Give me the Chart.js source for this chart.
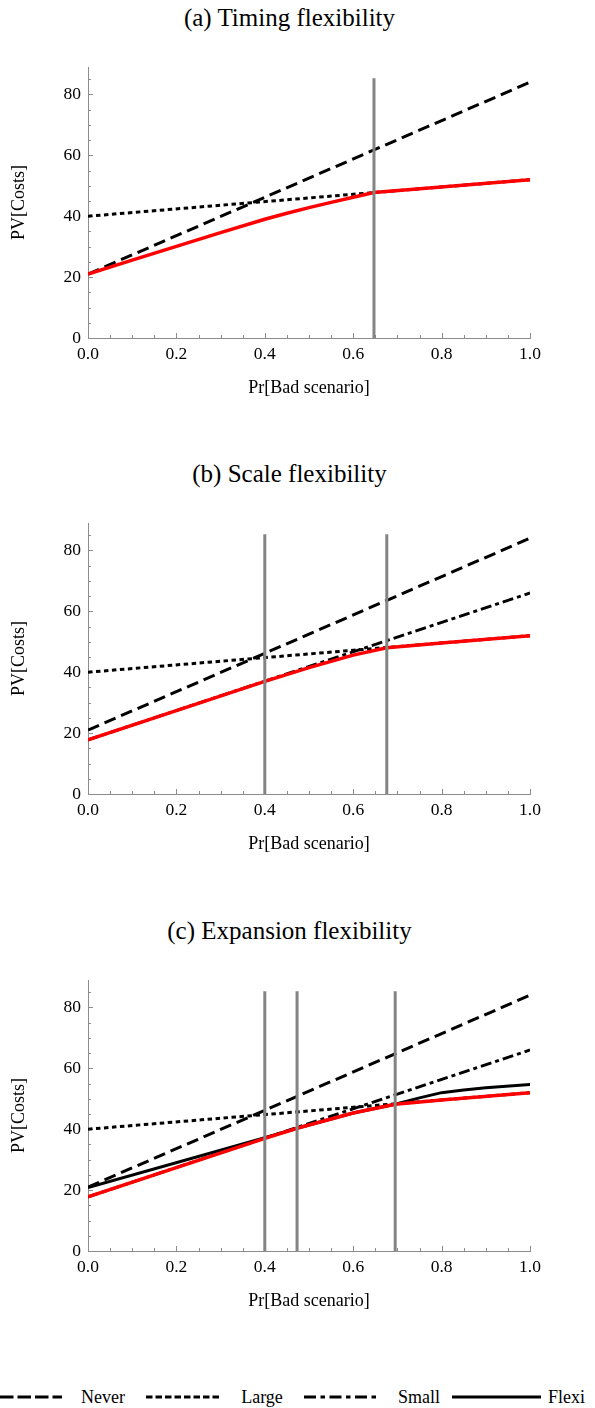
<!DOCTYPE html>
<html>
<head>
<meta charset="utf-8">
<script src="https://cdn.jsdelivr.net/npm/chart.js@4.4.1/dist/chart.umd.min.js"></script>
<style>
  html, body { margin: 0; padding: 0; background: #fff; }
  #page { position: relative; width: 595px; height: 1408px; overflow: hidden; background: #fff; }
  .ttl { position: absolute; left: 0; width: 579px; text-align: center; font: 25px 'Liberation Serif', serif; line-height: 30px; color: #000; }
  canvas { position: absolute; left: 0; }
  #legend { position: absolute; left: 0; top: 1382px; }
</style>
</head>
<body>
<div id="page">
  <div class="ttl" style="top:3px">(a) Timing flexibility</div>
  <canvas id="cA" width="595" height="456" style="top:0px"></canvas>
  <div class="ttl" style="top:459px">(b) Scale flexibility</div>
  <canvas id="cB" width="595" height="456" style="top:456px"></canvas>
  <div class="ttl" style="top:916px">(c) Expansion flexibility</div>
  <canvas id="cC" width="595" height="456" style="top:913px"></canvas>
  <svg id="legend" width="595" height="30">
    <g stroke="#000" stroke-width="3" fill="none">
      <line x1="0" y1="15" x2="62" y2="15" stroke-dasharray="13.5 4"/>
      <line x1="146" y1="15" x2="222" y2="15" stroke-dasharray="6.5 3"/>
      <line x1="304" y1="15" x2="378" y2="15" stroke-dasharray="12 4.5 4.5 4.5"/>
      <line x1="452" y1="15" x2="541" y2="15"/>
    </g>
    <g font-family="Liberation Serif, serif" font-size="18" fill="#000">
      <text x="103" y="21" text-anchor="middle">Never</text>
      <text x="262" y="21" text-anchor="middle">Large</text>
      <text x="419" y="21" text-anchor="middle">Small</text>
      <text x="548" y="21">Flexi</text>
    </g>
  </svg>
</div>
<script>
// axis ticks
const xTicks = [0, 0.2, 0.4, 0.6, 0.8, 1.0];
const yTicks = [0, 20, 40, 60, 80];

// straight strategies (same in every panel)
const lineX = [0, 1];
const neverY = [21, 84];
const largeY = [40, 52];
const smallY = [17.8, 66];

// optimal (red) curves
const timingX = [0, 0.1, 0.2, 0.3, 0.4, 0.45, 0.5, 0.55, 0.6, 0.647, 1];
const timingY = [21, 25.6, 30.1, 34.6, 39.0, 40.95, 42.8, 44.55, 46.2, 47.8, 52];
const scaleX = [0, 0.4, 0.5, 0.6, 0.676, 0.8, 1];
const scaleY = [17.8, 37, 41.5, 45.6, 48, 49.6, 52];
const expX = [0, 0.4, 0.475, 0.6, 0.695, 0.8, 1];
const expY = [17.8, 37, 40.4, 45.3, 48.2, 49.6, 52];

// flexible plant, panel (c)
const flexiX = [0, 0.4, 0.475, 0.6, 0.695, 0.75, 0.8, 0.85, 0.9, 1];
const flexiY = [20.8, 37.2, 40.4, 45.3, 48.2, 50.3, 52, 52.9, 53.6, 54.7];

// switching thresholds (grey verticals)
const cutsA = [0.647];
const cutsB = [0.4, 0.676];
const cutsC = [0.4, 0.473, 0.695];
const cutTop = 85.3;

const axisGray = '#8c8c8c';
const serif = "'Liberation Serif', 'Times New Roman', serif";
Chart.defaults.font.family = serif;
Chart.defaults.color = '#000';

const pts = (xs, ys) => xs.map((x, i) => ({ x: x, y: ys[i] }));

function series(xs, ys, color, dash, width) {
    return { data: pts(xs, ys), borderColor: color, borderWidth: width || 3, borderDash: dash || [],
             pointRadius: 0, fill: false, tension: 0 };
}

function cutSets(cuts) {
    return cuts.map(c => ({ data: [{ x: c, y: 0 }, { x: c, y: cutTop }], borderColor: '#848484',
                            borderWidth: 3, pointRadius: 0, fill: false }));
}

// Mathematica style ticks pointing into the plot
const inwardTicks = {
    id: 'inwardTicks',
    beforeDatasetsDraw(chart) {
        const { ctx, scales: { x, y } } = chart;
        ctx.save();
        ctx.strokeStyle = axisGray;
        ctx.lineWidth = 1;
        ctx.beginPath();
        for (let i = 0; i <= 20; i++) {
            const px = Math.round(x.getPixelForValue(i * 0.05)) + 0.5;
            const len = i % 4 === 0 ? 5 : 3;
            ctx.moveTo(px, y.bottom);
            ctx.lineTo(px, y.bottom - len);
        }
        for (let i = 0; i <= 17; i++) {
            const py = Math.round(y.getPixelForValue(i * 5)) + 0.5;
            const len = i % 4 === 0 ? 5 : 3;
            ctx.moveTo(x.left, py);
            ctx.lineTo(x.left + len, py);
        }
        ctx.stroke();
        ctx.restore();
    }
};

function makePanel(id, sets) {
    return new Chart(document.getElementById(id), {
        type: 'line',
        data: { datasets: sets },
        options: {
            responsive: false,
            animation: false,
            devicePixelRatio: 1,
            layout: { padding: { left: 0, right: 65, top: 67, bottom: 57 } },
            plugins: { legend: { display: false }, tooltip: { enabled: false }, title: { display: false } },
            scales: {
                x: {
                    type: 'linear', min: 0, max: 1,
                    grid: { display: false, drawTicks: false },
                    border: { display: true, color: axisGray, width: 1 },
                    ticks: { font: { size: 17.5 }, padding: 6, maxRotation: 0, callback: v => v.toFixed(1) },
                    afterBuildTicks: s => { s.ticks = xTicks.map(v => ({ value: v })); },
                    afterFit: s => { s.height = 61; },
                    title: { display: true, text: 'Pr[Bad scenario]', font: { size: 18 }, padding: 0 }
                },
                y: {
                    type: 'linear', min: 0, max: 89,
                    grid: { display: false, drawTicks: false },
                    border: { display: true, color: axisGray, width: 1 },
                    ticks: { font: { size: 17.5 }, padding: 7 },
                    afterBuildTicks: s => { s.ticks = yTicks.map(v => ({ value: v })); },
                    afterFit: s => { s.width = 88; },
                    title: { display: true, text: 'PV[Costs]', font: { size: 18 }, padding: { top: 8, bottom: 0 } }
                }
            }
        },
        plugins: [inwardTicks]
    });
}

// first dataset is drawn on top
makePanel('cA', [
    ...cutSets(cutsA),
    series(timingX, timingY, '#ff0000', [], 3.5),
    series(lineX, largeY, '#000', [4.5, 3.5]),
    series(lineX, neverY, '#000', [12, 6])
]);

makePanel('cB', [
    ...cutSets(cutsB),
    series(scaleX, scaleY, '#ff0000', [], 3.5),
    series(lineX, smallY, '#000', [11, 4, 4, 4]),
    series(lineX, largeY, '#000', [4.5, 3.5]),
    series(lineX, neverY, '#000', [12, 6])
]);

makePanel('cC', [
    ...cutSets(cutsC),
    series(expX, expY, '#ff0000', [], 3.5),
    series(flexiX, flexiY, '#000', []),
    series(lineX, smallY, '#000', [11, 4, 4, 4]),
    series(lineX, largeY, '#000', [4.5, 3.5]),
    series(lineX, neverY, '#000', [12, 6])
]);
</script>
</body>
</html>
